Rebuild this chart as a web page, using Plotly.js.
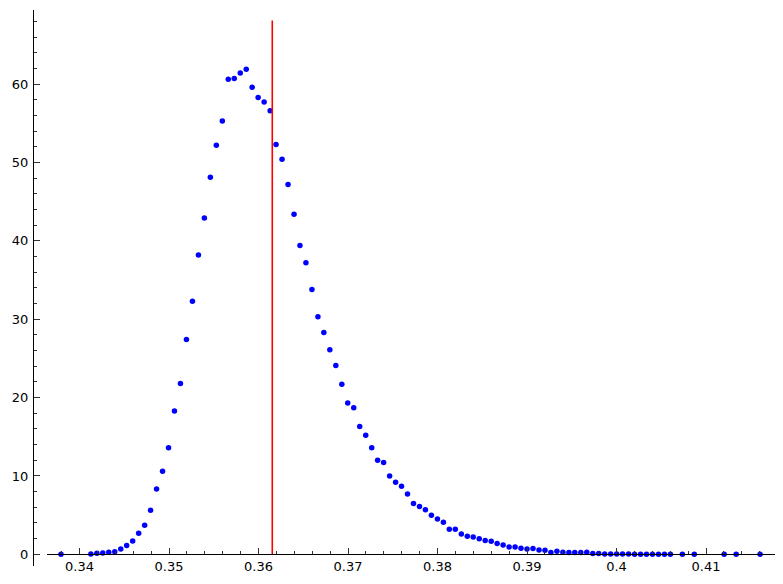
<!DOCTYPE html>
<html>
<head>
<meta charset="utf-8">
<script src="https://cdn.plot.ly/plotly-3.0.1.min.js"></script>
<style>
  html, body { margin: 0; padding: 0; background: #fff; }
  #chart { width: 783px; height: 584px; }
</style>
</head>
<body>
<div id="chart"></div>
<script>
// Bin centres (x) and density values (y)
const binCenters = [
  0.33793, 0.34127, 0.34194, 0.34260, 0.34327, 0.34394, 0.34461, 0.34527, 0.34594, 0.34661,
  0.34728, 0.34794, 0.34861, 0.34928, 0.34995, 0.35061, 0.35128, 0.35195, 0.35262, 0.35329,
  0.35395, 0.35462, 0.35529, 0.35596, 0.35662, 0.35729, 0.35796, 0.35863, 0.35929, 0.35996,
  0.36063, 0.36130, 0.36196, 0.36263, 0.36330, 0.36397, 0.36463, 0.36530, 0.36597, 0.36664,
  0.36730, 0.36797, 0.36864, 0.36931, 0.36997, 0.37064, 0.37131, 0.37198, 0.37265, 0.37331,
  0.37398, 0.37465, 0.37532, 0.37598, 0.37665, 0.37732, 0.37799, 0.37865, 0.37932, 0.37999,
  0.38066, 0.38132, 0.38199, 0.38266, 0.38333, 0.38399, 0.38466, 0.38533, 0.38600, 0.38666,
  0.38733, 0.38800, 0.38867, 0.38933, 0.39000, 0.39067, 0.39134, 0.39201, 0.39267, 0.39334,
  0.39401, 0.39468, 0.39534, 0.39601, 0.39668, 0.39735, 0.39801, 0.39868, 0.39935, 0.40002,
  0.40068, 0.40135, 0.40202, 0.40269, 0.40335, 0.40402, 0.40469, 0.40536, 0.40602, 0.40736,
  0.40869, 0.41203, 0.41337, 0.41604
];
const densityValues = [
  0.0, 0.04, 0.13, 0.17, 0.26, 0.34, 0.68, 1.11, 1.70, 2.68,
  3.70, 5.62, 8.34, 10.6, 13.6, 18.3, 21.8, 27.4, 32.3, 38.2,
  42.9, 48.1, 52.2, 55.3, 60.6, 60.7, 61.4, 61.9, 59.6, 58.3,
  57.7, 56.6, 52.3, 50.4, 47.2, 43.4, 39.4, 37.2, 33.8, 30.3,
  28.3, 26.1, 24.1, 21.7, 19.3, 18.7, 16.3, 15.2, 13.6, 12.0,
  11.7, 10.0, 9.2, 8.7, 7.7, 6.5, 6.1, 5.7, 5.0, 4.5,
  4.1, 3.2, 3.2, 2.6, 2.3, 2.2, 2.0, 1.75, 1.66, 1.37,
  1.19, 0.93, 0.93, 0.77, 0.68, 0.75, 0.55, 0.51, 0.22, 0.38,
  0.26, 0.22, 0.22, 0.22, 0.26, 0.09, 0.09, 0.04, 0.04, 0.04,
  0.03, 0.03, 0.02, 0.02, 0.02, 0.01, 0.01, 0.01, 0.01, 0.01,
  0.01, 0.0, 0.0, 0.0
];
// Vertical reference line
const refLineX = [0.36154, 0.36154];
const refLineY = [0, 68.1];

// Tick labels
const xTickVals = [0.34, 0.35, 0.36, 0.37, 0.38, 0.39, 0.40, 0.41];
const xTickText = ['0.34', '0.35', '0.36', '0.37', '0.38', '0.39', '0.4', '0.41'];
const yTickVals = [0, 10, 20, 30, 40, 50, 60];
const yTickText = ['0', '10', '20', '30', '40', '50', '60'];

const traces = [
  {
    type: 'scatter', mode: 'markers',
    x: binCenters, y: densityValues,
    marker: { color: 'rgb(0,0,255)', size: 5.5, line: { width: 0 } },
    cliponaxis: false, hoverinfo: 'skip', showlegend: false
  },
  {
    type: 'scatter', mode: 'lines',
    x: refLineX, y: refLineY,
    line: { color: 'rgb(255,0,0)', width: 1.6 },
    hoverinfo: 'skip', showlegend: false
  }
];

const fontSpec = { family: 'DejaVu Sans, sans-serif', size: 13, color: '#000' };

const layout = {
  width: 783, height: 584,
  margin: { l: 33, r: 8, t: 10, b: 18, pad: 0 },
  paper_bgcolor: '#fff', plot_bgcolor: '#fff',
  showlegend: false,
  font: fontSpec,
  xaxis: {
    domain: [0.01887, 1],
    range: [0.336369, 0.417709],
    anchor: 'free', position: 0.021,
    showgrid: false, zeroline: false,
    showline: true, linecolor: '#000', linewidth: 1,
    ticks: 'inside', ticklen: 6, tickwidth: 1, tickcolor: '#333',
    tickmode: 'array', tickvals: xTickVals, ticktext: xTickText,
    tickfont: fontSpec,
    minor: { dtick: 0.002, tick0: 0.34, ticks: 'inside', ticklen: 3, tickwidth: 1, tickcolor: '#333', showgrid: false }
  },
  yaxis: {
    range: [-1.49, 69.45],
    anchor: 'free', position: 0,
    showgrid: false, zeroline: false,
    showline: true, linecolor: '#000', linewidth: 1,
    ticks: 'inside', ticklen: 6, tickwidth: 1, tickcolor: '#333',
    tickmode: 'array', tickvals: yTickVals, ticktext: yTickText,
    tickfont: fontSpec, ticklabelstandoff: 2,
    minor: { dtick: 2, tick0: 0, ticks: 'inside', ticklen: 3, tickwidth: 1, tickcolor: '#333', showgrid: false }
  }
};

Plotly.newPlot('chart', traces, layout, { displayModeBar: false, staticPlot: true });
</script>
</body>
</html>
